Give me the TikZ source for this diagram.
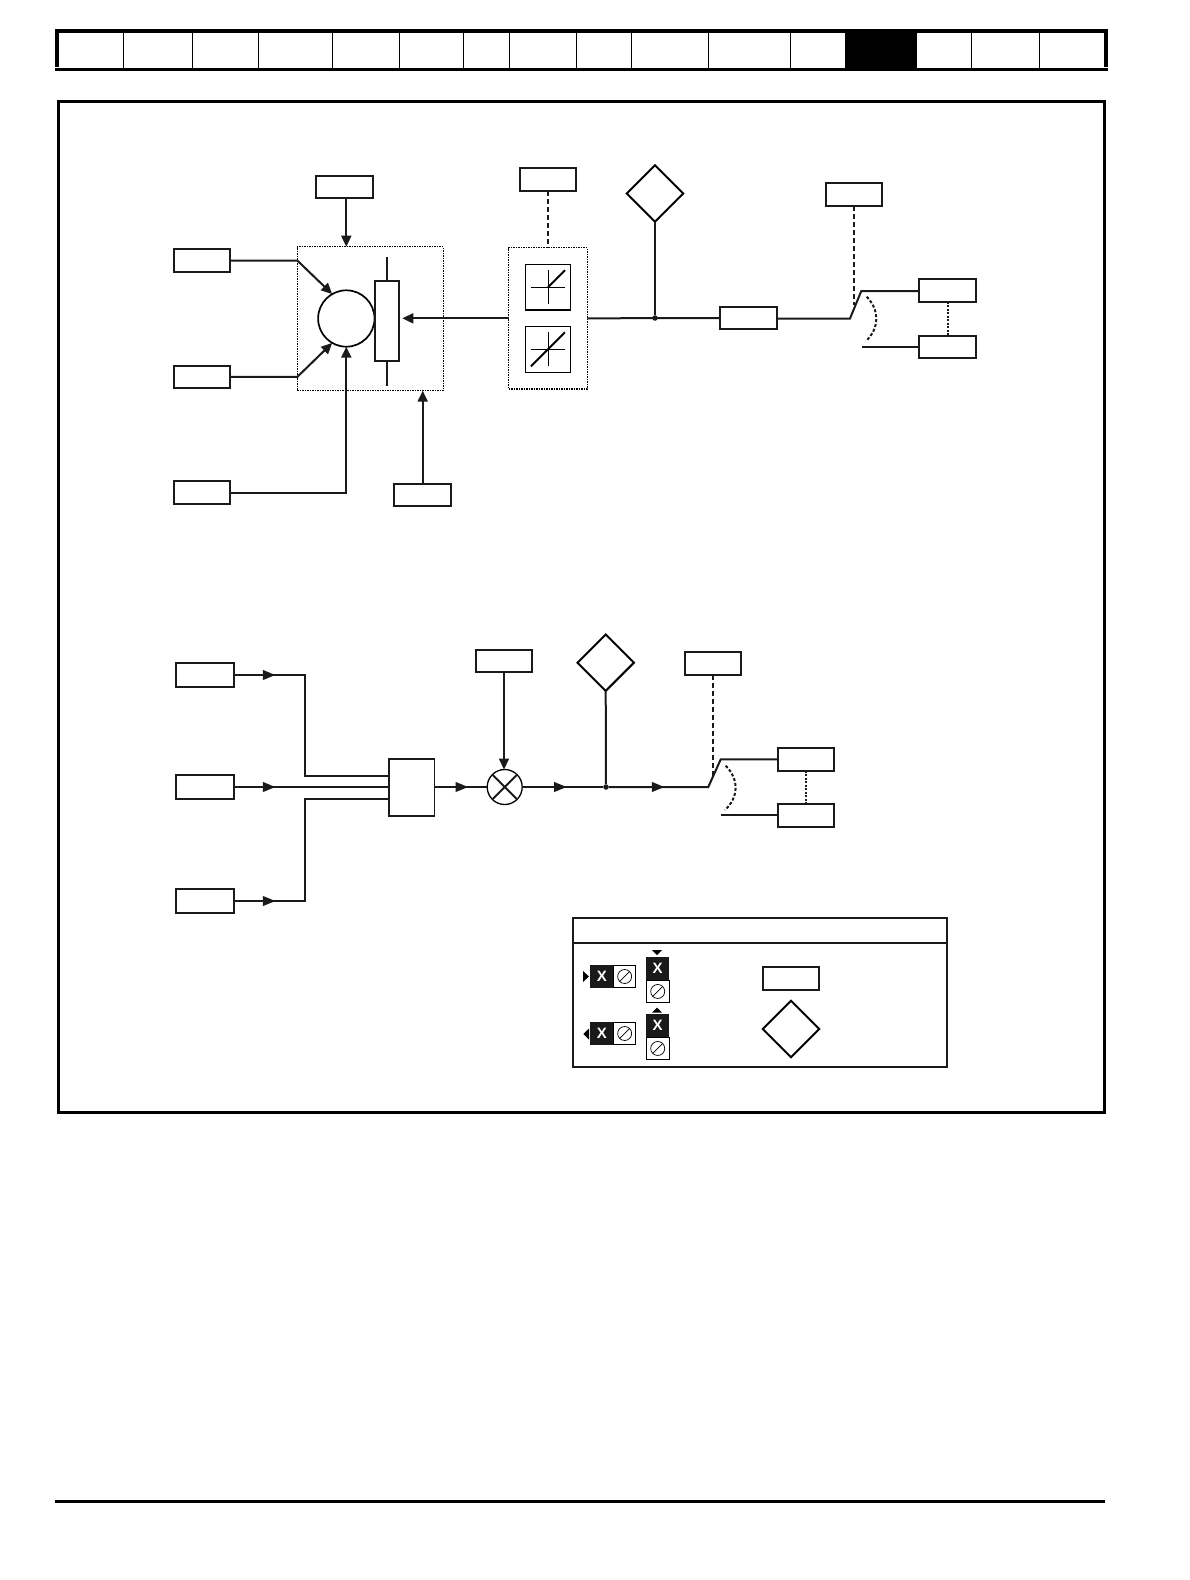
\documentclass[tikz,border=0pt]{standalone}
\usepackage{fontspec}
\setsansfont{Liberation Sans}
\usetikzlibrary{positioning,fit,calc,arrows.meta,shapes.geometric,decorations.markings}
\definecolor{inkk}{HTML}{1A1A1A}

\begin{document}
\begin{tikzpicture}[x=1pt,y=-1pt,
   pbox/.style={draw=inkk,line width=2pt,minimum width=56.6pt,minimum height=22.5pt,inner sep=0pt,outer sep=0pt},
   dbox/.style={draw=black,line width=2pt,diamond,minimum width=56.4pt,minimum height=56.4pt,aspect=1,inner sep=0pt,outer sep=0pt},
   dotbox/.style={draw=black,line width=1.5pt,densely dotted,inner sep=0pt,outer sep=0pt},
   gbox/.style={draw=black,line width=1.3pt,minimum width=44.6pt,inner sep=0pt,outer sep=0pt},
   conn/.style={draw=inkk,line width=2pt},
   dashc/.style={conn,dash pattern=on 5pt off 3pt},
   dotc/.style={conn,dash pattern=on 2pt off 1.5pt},
   arcc/.style={conn,dash pattern=on 3pt off 2pt},
   tip/.style={-{Triangle[length=11pt,width=10pt]}},
   midtip/.style={postaction={decorate},decoration={markings,mark=at position #1 with {\arrow{Triangle[length=12.5pt,width=9.5pt]}}}},
   wblk/.style={fill=inkk,text=white,font=\sffamily\bfseries\fontsize{15}{15}\selectfont,inner sep=0pt,outer sep=0pt},
   wwht/.style={draw=black,line width=0.9pt,fill=white,inner sep=0pt,outer sep=0pt},
   noslash/.style={draw=black,line width=0.7pt,circle,minimum size=14pt,inner sep=0pt,outer sep=0pt}]
 \useasboundingbox (0,0) rectangle (1190,1580);

 % header strip
 \fill[black] (845,31) rectangle (917,69);
 \foreach \xd in {123.3,192,258.3,332.3,399.3,463.5,509,576,630.9,708.2,790,971,1039.2}
   {\draw[line width=0.8pt] (\xd,31) -- (\xd,68);}
 \draw[line width=3.4pt] (55,31) -- (1108,31);
 \draw[line width=4pt] (57,31) -- (57,66.7);
 \draw[line width=4pt] (1106,31) -- (1106,66.7);
 \draw[line width=2.8pt] (55,69.3) -- (1108,69.3);
 \node[draw,line width=3pt,minimum width=1046pt,minimum height=1011pt,inner sep=0pt] (frame) at (581,607) {};
 \draw[line width=2.8pt] (55.4,1501.4) -- (1105.4,1501.4);

 % upper diagram
 \node[pbox] (inA) at (202,260.5) {};
 \node[pbox] (inB) at (202,376.9) {};
 \node[pbox] (inC) at (202,492.5) {};
 \node[pbox] (topA) at (344.2,186.9) {};
 \node[pbox] (topB) at (548,179.4) {};
 \node[pbox] (topC) at (853.8,194.5) {};
 \node[pbox] (lowA) at (422.7,495.2) {};
 \node[dotbox,minimum width=146pt,minimum height=144pt] (dotA) at (370.3,318.7) {};
 \node[draw=black,line width=1.7pt,circle,minimum size=56.4pt,inner sep=0pt,outer sep=0pt] (circ) at (346.3,318.5) {};
 \node[draw=inkk,line width=1.9pt,minimum width=24pt,minimum height=80pt,inner sep=0pt,outer sep=0pt] (rect) at (387.3,321) {};
 \draw[conn] (rect.north) -- ++(0,-24.5);
 \draw[conn] (rect.south) -- ++(0,24.5);
 \node[gbox,minimum height=45.7pt] (sqA) at (548,287.2) {};
 \node[gbox,minimum height=46pt] (sqB) at (548,349.3) {};
 \node[dotbox,line width=1.2pt,fit=(sqA)(sqB),inner xsep=17pt,inner ysep=16.7pt] (dotB) {};
 \draw[line width=0.9pt] ($(sqA.center)+(-17,0)$) -- ($(sqA.center)+(17,0)$);
 \draw[line width=0.9pt] ($(sqA.center)+(0,-17)$) -- ($(sqA.center)+(0,17)$);
 \draw[line width=0.9pt] ($(sqB.center)+(-17,0)$) -- ($(sqB.center)+(17,0)$);
 \draw[line width=0.9pt] ($(sqB.center)+(0,-17)$) -- ($(sqB.center)+(0,17)$);
 \draw[line width=1.9pt] (sqA.center) -- ($(sqA.center)+(17,-17)$);
 \draw[line width=1.9pt] ($(sqB.center)+(-17,17)$) -- ($(sqB.center)+(17,-17)$);
 \node[dbox] (diamA) at (655,193.5) {};
 \node[pbox] (pA) at (748.7,318) {};
 \node[pbox] (upA) at (947.5,290.4) {};
 \node[pbox,below=34.3pt of upA] (dnA) {};
 \coordinate (swA1) at (850,318.5);
 \coordinate (swA2) at (861.3,291);
 \coordinate (swA3) at (862,0 |- dnA);
 \node[circle,fill=inkk,minimum size=5.5pt,inner sep=0pt] (juncA) at (655,318) {};

 \draw[conn,tip] (inA.east) -- (inA.east -| dotA.west) -- (circ.120);
 \draw[conn,tip] (inB.east) -- (inB.east -| dotA.west) -- (circ.240);
 \draw[conn,tip] (inC.east) -| (circ.south);
 \draw[conn,tip] (circ.north |- topA.south) -- (circ.north |- dotA.north);
 \draw[conn,tip] (lowA.north) -- (lowA.north |- dotA.south);
 \draw[dashc] (topB.south) -- (dotB.north);
 \draw[conn,tip,shorten >=3pt] (dotB.west) -- (dotB.west -| rect.east);
 \draw[conn] (dotB.east) -- (pA.west);
 \draw[conn] (diamA.south) -- (juncA);
 \draw[conn] (pA.east |- swA1) -- (swA1) -- (swA2) -- (swA2 -| upA.west);
 \draw[conn] (swA3) -- (dnA.west);
 \draw[dashc] (topC.south) -- ($(topC.south |- swA2)+(0,14)$);
 \draw[dotc] (upA.south) -- (dnA.north);
 \draw[arcc] (866.7,296.7) .. controls (879.6,310) and (879.6,328) .. (866,341);

 % lower diagram
 \node[pbox,minimum width=58.5pt,minimum height=24.7pt] (srcA) at (205.2,675) {};
 \node[pbox,minimum width=58.5pt,minimum height=24.7pt] (srcB) at (205.2,787) {};
 \node[pbox,minimum width=58.5pt,minimum height=24.7pt] (srcC) at (205.2,901) {};
 \node[draw=inkk,line width=1.9pt,minimum width=45.6pt,minimum height=57.3pt,inner sep=0pt,outer sep=0pt] (blk) at (411.7,787.3) {};
 \node[draw=black,line width=1.3pt,circle,minimum size=35pt,inner sep=0pt,outer sep=0pt] (mulc) at (504.7,787) {};
 \draw[line width=1.9pt,inkk] (mulc.45) -- (mulc.225);
 \draw[line width=1.9pt,inkk] (mulc.135) -- (mulc.315);
 \node[pbox] (gainA) at (504,661.2) {};
 \node[dbox] (diamB) at (605.7,662.7) {};
 \node[pbox] (topD) at (713,663.3) {};
 \node[pbox] (upB) at (806,759.4) {};
 \node[pbox,below=33.4pt of upB] (dnB) {};
 \coordinate (busA) at (305,776);
 \coordinate (busC) at (305,798.7);
 \coordinate (swB1) at (708.3,787);
 \coordinate (swB2) at (720.7,759.4);
 \coordinate (swB3) at (721.3,0 |- dnB);
 \node[circle,fill=inkk,minimum size=5.5pt,inner sep=0pt] (juncB) at (606,787) {};

 \draw[conn,midtip=41pt] (srcA.east) -| (busA) -- (busA -| blk.west);
 \draw[conn,midtip=41pt] (srcB.east) -- (srcB.east -| blk.west);
 \draw[conn,midtip=41pt] (srcC.east) -| (busC) -- (busC -| blk.west);
 \draw[conn,midtip=33.7pt] (blk.east |- mulc) -- (mulc.west);
 \draw[conn,tip] (gainA.south) -- (gainA.south |- mulc.north);
 \draw[conn,midtip=44.5pt] (mulc.east) -- (juncB);
 \draw[conn] (diamB.south) -- (juncB);
 \draw[conn,midtip=55.5pt] (juncB) -- (swB1) -- (swB2) -- (upB.west);
 \draw[conn] (swB3) -- (dnB.west);
 \draw[dashc] (topD.south) -- ($(topD.south |- swB2)+(0,17)$);
 \draw[dotc] (upB.south) -- (dnB.north);
 \draw[arcc] (725.7,765.7) .. controls (739,779) and (739,797) .. (725,810);

 % key
 \node[draw=inkk,line width=2pt,minimum width=374.3pt,minimum height=148.4pt,inner sep=0pt,outer sep=0pt] (key) at (759.8,992.5) {};
 \draw[inkk,line width=1.6pt] (key.west |- 0,943) -- (key.east |- 0,943);
 \foreach \yw/\nm in {976.5/a,1033.5/b}{
   \node[wblk,minimum width=23.7pt,minimum height=22.4pt] (hx\nm) at (601.8,\yw) {X};
   \node[wwht,minimum width=22pt,minimum height=22.4pt,right=0pt of hx\nm] (hw\nm) {};
   \node[noslash] (hs\nm) at (hw\nm) {};
   \draw[line width=0.7pt] (hs\nm.225) -- (hs\nm.45);
 }
 \foreach \yw/\nm in {968.8/a,1025.8/b}{
   \node[wblk,minimum width=22.7pt,minimum height=23.7pt] (vx\nm) at (657.7,\yw) {X};
   \node[wwht,minimum width=22.7pt,minimum height=21.6pt,below=0pt of vx\nm] (vw\nm) {};
   \node[noslash] (vs\nm) at (vw\nm) {};
   \draw[line width=0.7pt] (vs\nm.225) -- (vs\nm.45);
 }
 \fill[black] (583,971) -- (589,976.5) -- (583,982) -- cycle;
 \fill[black] (589,1028.5) -- (583.4,1034) -- (589,1039.5) -- cycle;
 \fill[black] (652,950) -- (662,950) -- (657,955) -- cycle;
 \fill[black] (652,1012.7) -- (662,1012.7) -- (657,1007.7) -- cycle;
 \node[pbox] (keyB) at (791,978.5) {};
 \node[dbox] (keyD) at (791,1029) {};
\end{tikzpicture}
\end{document}
